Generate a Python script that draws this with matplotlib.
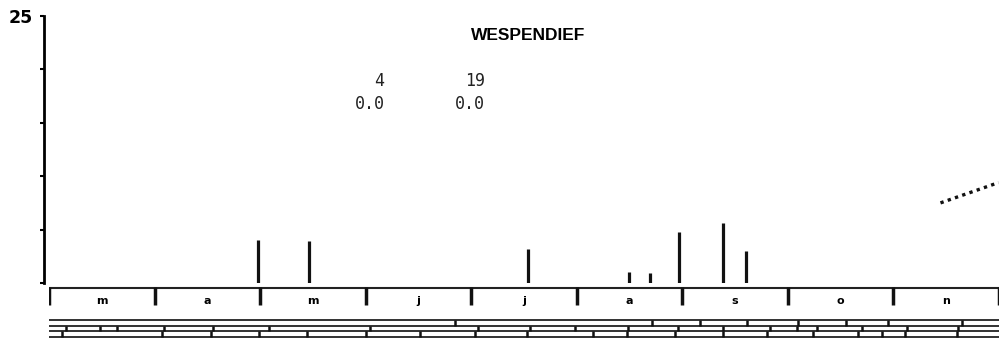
import numpy as np
import matplotlib
matplotlib.use("Agg")
import matplotlib.pyplot as plt

# months (x in month units, 0 = start of march)
months = ['m', 'a', 'm', 'j', 'j', 'a', 's', 'o', 'n']

# observation bars
bar_x = [1.98, 2.46, 4.54, 5.50, 5.70, 5.97, 6.39, 6.61]
bar_y = [4.0, 3.9, 3.2, 1.0, 0.9, 4.8, 5.6, 3.0]

# dotted trend line at the end
trend_x = [8.45, 9.0]
trend_y = [7.5, 9.4]

# numbers printed in the plot
counts = ['4', '19']
means = ['0.0', '0.0']
count_x = [3.18, 4.13]

# little ticks in the ledger rows below the month box
row_a = [3.85, 5.72, 6.17, 6.62, 7.10, 7.55, 7.95, 8.65]
row_b = [0.16, 0.48, 0.64, 1.09, 1.55, 2.09, 3.04, 4.07, 4.56, 4.99, 5.49,
         5.96, 6.39, 6.83, 7.09, 7.28, 7.71, 8.13, 8.62]
row_c = [0.12, 1.07, 1.54, 1.99, 2.45, 3.0, 3.52, 4.04, 4.53, 5.16, 5.48,
         5.93, 6.39, 6.81, 7.24, 7.67, 7.90, 8.11, 8.61]

W, H = 999, 338
fig = plt.figure(figsize=(W / 100, H / 100), dpi=100)

mpx = 105.5  # px per month
x0 = 49

# main axes
ax = fig.add_axes([44 / W, 1 - 283 / H, (W - 44) / W, (283 - 16) / H])
ax.set_xlim(-5 / mpx, (W - x0) / mpx)
ax.set_ylim(0, 25)
for s in ['top', 'right', 'bottom']:
    ax.spines[s].set_visible(False)
ax.spines['left'].set_linewidth(2)
ax.set_xticks([])
ax.set_yticks([0, 5, 10, 15, 20, 25])
ax.set_yticklabels(['', '', '', '', '', '25'], fontsize=12.5,
                   fontweight='bold', family='DejaVu Sans')
ax.tick_params(axis='y', length=3, width=1.5, pad=5)

ax.vlines(bar_x, 0, bar_y, color='#111111', lw=2.3)
ax.plot(trend_x, trend_y, color='#111111', ls=(0, (1, 1.3)), lw=2.4,
        clip_on=False)

fig.text(528 / W, 1 - 36 / H, 'WESPENDIEF', ha='center', va='center',
         fontsize=12.5, fontweight='bold', family='Liberation Sans')

for cx, c, m in zip(count_x, counts, means):
    xp = (x0 + cx * mpx) / W
    fig.text(xp, 1 - 81 / H, c, ha='right', va='center', fontsize=12,
             family='DejaVu Sans Mono', color='#222222')
    fig.text(xp, 1 - 104 / H, m, ha='right', va='center', fontsize=12,
             family='DejaVu Sans Mono', color='#222222')

# month box + ledger
bx = fig.add_axes([x0 / W, 0, (W - x0) / W, (H - 283) / H])
bx.set_xlim(0, (W - x0) / mpx)
bx.set_ylim(H, 283)
bx.axis('off')

bx.hlines(287.5, 0, 9, color='#222222', lw=1.5)
bx.vlines(np.arange(10), 287, 305, color='#111111', lw=2.5)
for i, m in enumerate(months):
    bx.text(i + 0.5, 301, m, ha='center', va='center', fontsize=8,
            fontweight='bold', family='DejaVu Sans')

rows_y = [320, 325.5, 331, 336.5]
bx.hlines(rows_y, 0, 9, color='#222222', lw=1.3)
for r, xs in enumerate([row_a, row_b, row_c]):
    bx.vlines(xs, rows_y[r], rows_y[r + 1], color='#111111', lw=1.8)

fig.savefig('out.png', dpi=100)
